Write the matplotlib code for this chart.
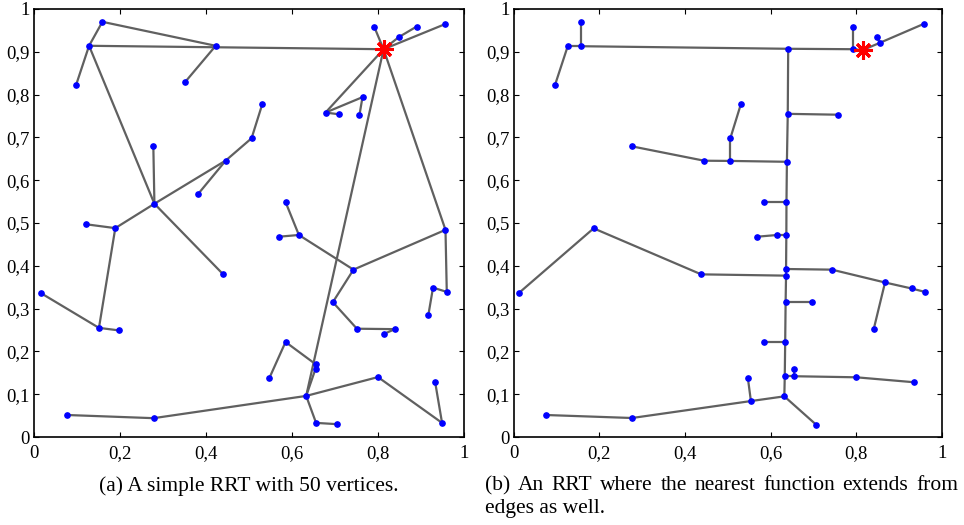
import matplotlib
matplotlib.use("Agg")
import matplotlib.pyplot as plt
from matplotlib.ticker import FuncFormatter

plt.rcParams['font.family'] = ['Liberation Serif', 'DejaVu Serif']

# (a) simple RRT, vertex 0 is the goal (red star)
xa = [0.813, 0.791, 0.848, 0.890, 0.957, 0.678, 0.709, 0.764, 0.757, 0.4225,
      0.128, 0.159, 0.098, 0.352, 0.280, 0.2775, 0.446, 0.506, 0.531, 0.381,
      0.440, 0.189, 0.121, 0.151, 0.0163, 0.198, 0.957, 0.960, 0.928, 0.917,
      0.743, 0.616, 0.570, 0.585, 0.695, 0.751, 0.8395, 0.814, 0.633, 0.655,
      0.655, 0.585, 0.547, 0.656, 0.705, 0.800, 0.949, 0.933, 0.278, 0.0775]
ya = [0.906, 0.959, 0.934, 0.959, 0.965, 0.758, 0.754, 0.794, 0.753, 0.914,
      0.914, 0.970, 0.823, 0.830, 0.545, 0.679, 0.646, 0.698, 0.778, 0.567,
      0.380, 0.488, 0.497, 0.255, 0.336, 0.249, 0.484, 0.339, 0.349, 0.284,
      0.391, 0.472, 0.468, 0.549, 0.315, 0.253, 0.252, 0.241, 0.096, 0.160,
      0.170, 0.222, 0.137, 0.033, 0.030, 0.140, 0.033, 0.128, 0.044, 0.0514]
edges_a = [(0, 1), (0, 2), (2, 3), (0, 4), (0, 5), (5, 6), (5, 7), (7, 8),
           (0, 10), (11, 9), (10, 11), (9, 13), (10, 12), (10, 14), (14, 15),
           (14, 16), (16, 17), (17, 18), (16, 19), (14, 20), (14, 21), (21, 22),
           (21, 23), (23, 24), (23, 25), (0, 26), (26, 27), (27, 28), (28, 29),
           (26, 30), (30, 31), (31, 32), (31, 33), (30, 34), (34, 35), (35, 36),
           (36, 37), (0, 38), (38, 39), (39, 40), (40, 41), (41, 42), (38, 43),
           (43, 44), (38, 45), (45, 46), (46, 47), (38, 48), (48, 49)]

# (b) RRT extending from edges, vertex 0 is the goal
xb = [0.815, 0.792, 0.792, 0.848, 0.855, 0.957, 0.641, 0.157, 0.157, 0.1265,
      0.097, 0.640, 0.757, 0.638, 0.506, 0.506, 0.531, 0.445, 0.2765, 0.637,
      0.585, 0.6367, 0.6157, 0.569, 0.636, 0.743, 0.867, 0.929, 0.960, 0.8406,
      0.636, 0.438, 0.187, 0.012, 0.635, 0.696, 0.634, 0.585, 0.633, 0.6546,
      0.655, 0.800, 0.934, 0.632, 0.706, 0.554, 0.547, 0.2765, 0.076]
yb = [0.904, 0.959, 0.906, 0.934, 0.921, 0.965, 0.907, 0.913, 0.970, 0.913,
      0.823, 0.755, 0.753, 0.643, 0.645, 0.698, 0.779, 0.6455, 0.679, 0.548,
      0.548, 0.472, 0.472, 0.468, 0.3925, 0.391, 0.361, 0.347, 0.339, 0.252,
      0.377, 0.380, 0.4875, 0.336, 0.315, 0.315, 0.222, 0.222, 0.142, 0.142,
      0.160, 0.1395, 0.128, 0.095, 0.029, 0.084, 0.137, 0.0444, 0.0514]
edges_b = [(0, 2), (2, 1), (0, 4), (4, 3), (4, 5), (2, 6), (6, 7), (7, 8),
           (7, 9), (9, 10), (6, 11), (11, 12), (11, 13), (13, 14), (14, 15),
           (15, 16), (14, 17), (17, 18), (13, 19), (19, 20), (19, 21), (21, 22),
           (22, 23), (21, 24), (24, 25), (25, 26), (26, 27), (27, 28), (26, 29),
           (24, 30), (30, 31), (31, 32), (32, 33), (30, 34), (34, 35), (34, 36),
           (36, 37), (36, 38), (38, 39), (39, 40), (39, 41), (41, 42), (38, 43),
           (43, 44), (43, 45), (45, 46), (45, 47), (47, 48)]

ticks = [0, 0.1, 0.2, 0.3, 0.4, 0.5, 0.6, 0.7, 0.8, 0.9, 1]
caption_a = "(a) A simple RRT with 50 vertices."
caption_b1 = "(b) An RRT where the nearest function extends from"
caption_b2 = "edges as well."


def comma(v, pos):
    s = "%g" % v
    return s.replace(".", ",")


def draw_tree(ax, xs, ys, edges):
    for i, j in edges:
        ax.plot([xs[i], xs[j]], [ys[i], ys[j]], color='#606060', lw=1.6,
                solid_capstyle='round', zorder=1)
    ax.plot(xs[1:], ys[1:], 'o', color='blue', ms=3.8, mec='blue', zorder=2)
    ax.plot(xs[0], ys[0], marker=(8, 2, 0), color='red', ms=13, mew=2.2,
            ls='none', zorder=3)
    ax.set_xlim(0, 1)
    ax.set_ylim(0, 1)
    ax.set_xticks([0, 0.2, 0.4, 0.6, 0.8, 1])
    ax.set_yticks(ticks)
    ax.xaxis.set_major_formatter(FuncFormatter(comma))
    ax.yaxis.set_major_formatter(FuncFormatter(comma))
    ax.tick_params(direction='in', top=True, right=True, length=3.5,
                   labelsize=13.5, width=0.8)
    ax.tick_params(axis='x', pad=6)
    ax.tick_params(axis='y', pad=3)
    for sp in ax.spines.values():
        sp.set_linewidth(1.2)


fig = plt.figure(figsize=(9.64, 5.25), dpi=100)
ax1 = fig.add_axes([0.0353, 0.1676, 0.446, 0.8153])
ax2 = fig.add_axes([0.5327, 0.1676, 0.4445, 0.8153])
draw_tree(ax1, xa, ya, edges_a)
draw_tree(ax2, xb, yb, edges_b)

cap_size = 15.5
fig.text(0.2585, 1 - 486 / 525, caption_a, ha='center', va='center',
         fontsize=cap_size)

# justified first line of caption (b)
left_px, right_px = 485, 958
words = caption_b1.split()
objs = [fig.text(0, 1 - 486 / 525, w, ha='left', va='center',
                 fontsize=cap_size) for w in words]
fig.canvas.draw()
r = fig.canvas.get_renderer()
widths = [t.get_window_extent(r).width for t in objs]
gap = (right_px - left_px - sum(widths)) / (len(words) - 1)
x = left_px
for t, w in zip(objs, widths):
    t.set_x(x / 964)
    x += w + gap
fig.text(left_px / 964, 1 - 509 / 525, caption_b2, ha='left', va='center',
         fontsize=cap_size)

fig.savefig("out.png", dpi=100)
